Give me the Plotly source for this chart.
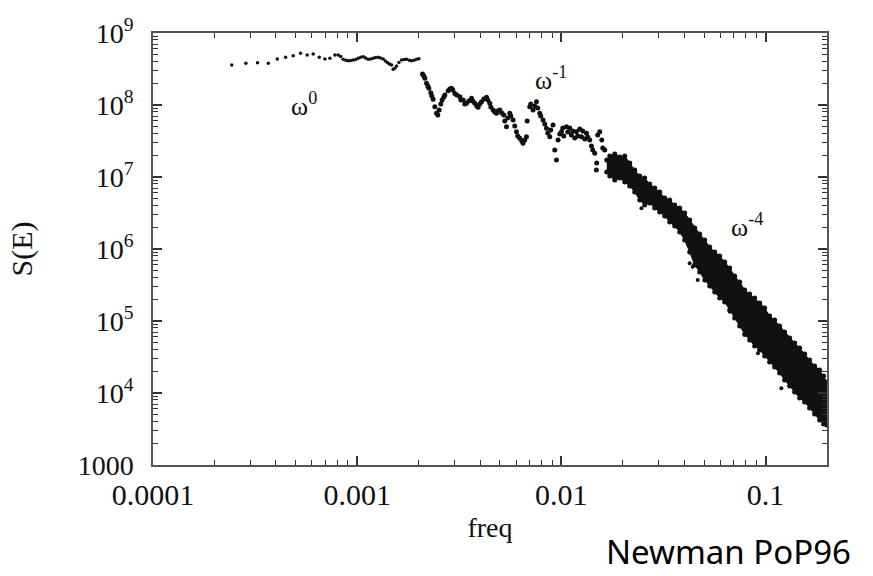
import math
import plotly.graph_objects as go

# ---- data ----
# sparse low-frequency part (flat, omega^0)
freq_lo = [2.43e-4, 2.85e-4, 3.25e-4, 3.67e-4, 4.06e-4, 4.46e-4, 4.86e-4, 5.28e-4, 5.69e-4, 6.09e-4,
           6.52e-4, 6.95e-4, 7.35e-4, 7.78e-4, 8.07e-4, 8.30e-4, 8.54e-4, 8.80e-4, 9.04e-4, 9.30e-4,
           9.56e-4, 9.85e-4, 1.011e-3, 1.040e-3, 1.070e-3, 1.100e-3, 1.132e-3, 1.165e-3, 1.198e-3, 1.230e-3,
           1.267e-3, 1.300e-3, 1.341e-3, 1.375e-3, 1.409e-3, 1.440e-3, 1.474e-3, 1.501e-3, 1.530e-3, 1.559e-3,
           1.600e-3, 1.649e-3, 1.700e-3, 1.745e-3, 1.800e-3, 1.846e-3, 1.900e-3, 1.954e-3, 2.005e-3]
S_lo = [3.59e8, 3.80e8, 3.87e8, 3.80e8, 4.36e8, 4.60e8, 4.84e8, 5.23e8, 4.95e8, 5.11e8,
        4.60e8, 4.36e8, 4.45e8, 4.95e8, 4.95e8, 4.70e8, 4.31e8, 4.20e8, 4.12e8, 4.15e8,
        4.22e8, 4.30e8, 4.45e8, 4.60e8, 4.69e8, 4.50e8, 4.31e8, 4.35e8, 4.45e8, 4.55e8,
        4.60e8, 4.50e8, 4.36e8, 4.10e8, 3.87e8, 3.70e8, 3.59e8, 3.13e8, 3.25e8, 3.48e8,
        3.90e8, 4.22e8, 4.30e8, 4.31e8, 4.20e8, 4.12e8, 4.20e8, 4.31e8, 4.40e8]

# drop and intermediate (omega^-1) part
freq_mid = [2.09e-3, 2.12e-3, 2.145e-3, 2.186e-3, 2.218e-3, 2.244e-3, 2.295e-3, 2.320e-3, 2.355e-3, 2.401e-3,
            2.447e-3, 2.482e-3, 2.520e-3, 2.568e-3, 2.607e-3, 2.656e-3, 2.687e-3, 2.789e-3, 2.842e-3, 2.898e-3,
            2.940e-3, 3.008e-3, 3.076e-3, 3.182e-3, 3.218e-3, 3.303e-3, 3.366e-3, 3.431e-3, 3.521e-3, 3.631e-3,
            3.683e-3, 3.768e-3, 3.853e-3, 3.911e-3, 3.986e-3, 4.064e-3, 4.170e-3, 4.299e-3, 4.362e-3, 4.462e-3,
            4.512e-3, 4.631e-3, 4.720e-3, 4.812e-3, 4.882e-3, 4.994e-3, 5.107e-3, 5.224e-3, 5.283e-3, 5.386e-3,
            5.465e-3, 5.589e-3, 5.653e-3, 5.801e-3, 5.914e-3, 6.027e-3, 6.117e-3, 6.256e-3, 6.399e-3, 6.493e-3,
            6.619e-3, 6.746e-3, 6.800e-3, 7.001e-3, 7.083e-3, 7.267e-3, 7.409e-3, 7.551e-3, 7.664e-3, 7.838e-3,
            7.928e-3, 8.135e-3, 8.293e-3, 8.453e-3, 8.578e-3, 8.774e-3, 8.873e-3, 9.107e-3, 9.282e-3, 9.463e-3,
            9.636e-3, 9.820e-3, 1.001e-2, 1.016e-2, 1.027e-2, 1.059e-2, 1.075e-2, 1.099e-2, 1.120e-2, 1.137e-2,
            1.163e-2, 1.185e-2, 1.203e-2, 1.230e-2, 1.254e-2, 1.273e-2, 1.302e-2, 1.327e-2, 1.346e-2, 1.377e-2,
            1.404e-2, 1.425e-2, 1.457e-2, 1.485e-2, 1.490e-2, 1.507e-2, 1.542e-2, 1.577e-2, 1.595e-2, 1.631e-2]
S_mid = [2.70e8, 2.53e8, 2.35e8, 2.00e8, 1.84e8, 1.71e8, 1.48e8, 1.33e8, 1.20e8, 9.47e7,
         7.67e7, 7.26e7, 8.52e7, 1.03e8, 1.17e8, 1.29e8, 1.38e8, 1.58e8, 1.67e8, 1.71e8,
         1.62e8, 1.45e8, 1.38e8, 1.30e8, 1.17e8, 1.17e8, 1.03e8, 1.06e8, 1.14e8, 1.24e8,
         1.14e8, 1.06e8, 9.69e7, 9.29e7, 1.03e8, 1.11e8, 1.21e8, 1.28e8, 1.17e8, 1.06e8,
         9.38e7, 8.52e7, 7.99e7, 7.67e7, 8.25e7, 8.52e7, 7.74e7, 7.26e7, 5.99e7, 5.00e7,
         6.60e7, 7.67e7, 7.04e7, 6.19e7, 5.11e7, 4.26e7, 3.71e7, 3.45e7, 3.16e7, 2.94e7,
         3.27e7, 3.63e7, 5.99e7, 9.47e7, 1.03e8, 8.52e7, 9.69e7, 1.11e8, 9.08e7, 7.67e7,
         7.04e7, 6.19e7, 5.45e7, 4.75e7, 4.08e7, 3.63e7, 4.50e7, 5.28e7, 2.37e7, 1.72e7,
         3.27e7, 3.96e7, 4.26e7, 4.79e7, 3.71e7, 5.00e7, 4.22e7, 4.79e7, 3.83e7, 4.35e7,
         3.48e7, 4.26e7, 3.71e7, 4.64e7, 3.63e7, 4.35e7, 3.37e7, 4.05e7, 3.59e7, 3.27e7,
         2.70e7, 2.37e7, 2.13e7, 1.25e7, 1.56e7, 3.83e7, 4.26e7, 3.27e7, 2.53e7, 2.37e7]

# dense high-frequency band (omega^-4): upper and lower envelope of the black cloud
freq_band = [0.01668, 0.01726, 0.01826, 0.01931, 0.02044, 0.02162, 0.02287, 0.0242, 0.02559, 0.02708,
             0.02865, 0.03031, 0.03207, 0.03393, 0.0359, 0.03798, 0.04018, 0.04252, 0.04498, 0.04759,
             0.05035, 0.05327, 0.05636, 0.05963, 0.06309, 0.06674, 0.07061, 0.07471, 0.07904, 0.08362,
             0.08847, 0.09358, 0.099, 0.1047, 0.1108, 0.1172, 0.124, 0.1312, 0.1388, 0.1469,
             0.1554, 0.1644, 0.1739, 0.184, 0.1925, 0.1996]
S_band_hi = [1.72e7, 1.96e7, 2.09e7, 1.90e7, 1.96e7, 1.56e7, 1.25e7, 1.03e7, 9.69e6, 7.99e6,
             7.04e6, 6.19e6, 5.11e6, 4.79e6, 4.08e6, 3.71e6, 3.16e6, 2.53e6, 1.96e6, 1.62e6,
             1.33e6, 1.07e6, 9.08e5, 7.99e5, 6.60e5, 5.45e5, 4.22e5, 3.48e5, 2.70e5, 2.37e5,
             2.09e5, 1.78e5, 1.52e5, 1.17e5, 1.03e5, 8.52e4, 7.04e4, 5.81e4, 4.95e4, 4.22e4,
             3.48e4, 2.87e4, 2.37e4, 2.09e4, 1.72e4, 1.42e4]
S_band_lo = [1.17e7, 1.03e7, 9.08e6, 9.69e6, 8.52e6, 7.50e6, 6.19e6, 4.79e6, 4.08e6, 4.35e6,
             3.71e6, 3.27e6, 2.87e6, 2.37e6, 2.09e6, 1.72e6, 1.33e6, 9.08e5, 5.99e5, 4.79e5,
             3.71e5, 3.06e5, 2.53e5, 2.09e5, 1.84e5, 1.42e5, 1.10e5, 8.52e4, 6.60e4, 5.45e4,
             4.50e4, 3.96e4, 3.27e4, 2.70e4, 2.30e4, 1.90e4, 1.52e4, 1.25e4, 1.03e4, 8.52e3,
             7.50e3, 6.19e3, 5.11e3, 4.22e3, 3.71e3, 3.59e3]

# isolated points just outside the dense band
freq_out = [0.02467, 0.04252, 0.04398, 0.04653, 0.06674, 0.07904, 0.0918, 0.1195]
S_out = [3.68e6, 6.33e5, 5.68e5, 3.71e5, 1.346e5, 6.39e4, 3.56e4, 1.163e4]

x_ticks = [1e-4, 1e-3, 1e-2, 1e-1]
x_ticktext = ["0.0001", "0.001", "0.01", "0.1"]
y_ticks = [1e3, 1e4, 1e5, 1e6, 1e7, 1e8, 1e9]
y_ticktext = ["1000", "10<sup>4</sup>", "10<sup>5</sup>", "10<sup>6</sup>",
              "10<sup>7</sup>", "10<sup>8</sup>", "10<sup>9</sup>"]

labels = ["ω<sup>0</sup>", "ω<sup>-1</sup>", "ω<sup>-4</sup>"]
label_freq = [5.46e-4, 8.92e-3, 8.08e-2]
label_S = [1.03e8, 2.37e8, 2.15e6]

# ---- figure ----
INK = "#111111"
SERIF = "Liberation Serif, Times New Roman, serif"

fig = go.Figure()

# filled dense band
fig.add_trace(go.Scatter(
    x=freq_band + freq_band[::-1], y=S_band_hi + S_band_lo[::-1],
    mode="lines", fill="toself", fillcolor=INK, line=dict(color=INK, width=1),
    hoverinfo="skip"))
# roughened band edges
fig.add_trace(go.Scatter(x=freq_band + freq_band, y=S_band_hi + S_band_lo, mode="markers",
                         marker=dict(color=INK, size=5), hoverinfo="skip"))
fig.add_trace(go.Scatter(x=freq_lo, y=S_lo, mode="markers", marker=dict(color=INK, size=3.5)))
fig.add_trace(go.Scatter(x=freq_mid, y=S_mid, mode="markers", marker=dict(color=INK, size=5)))
fig.add_trace(go.Scatter(x=freq_out, y=S_out, mode="markers", marker=dict(color=INK, size=4)))

x_minor = [m * 10.0 ** e for e in range(-4, 0) for m in range(2, 10) if m * 10.0 ** e <= 0.2]
y_minor = [m * 10.0 ** e for e in range(3, 9) for m in range(2, 10)]

axis_common = dict(
    type="log", showgrid=False, zeroline=False, showline=True, linecolor="#555555", linewidth=1.5,
    mirror="allticks", ticks="inside", ticklen=9, tickwidth=1.5, tickcolor="#333333",
    tickmode="array",
)

fig.update_xaxes(
    **axis_common,
    range=[math.log10(1e-4), math.log10(0.2)],
    tickvals=x_ticks, ticktext=x_ticktext,
    tickfont=dict(family=SERIF, size=30, color=INK),
    ticklabelstandoff=2,
    minor=dict(tickmode="array", tickvals=x_minor, ticks="inside", ticklen=5,
               tickwidth=1, tickcolor="#333333", showgrid=False),
    title=dict(text="freq", font=dict(family=SERIF, size=28, color=INK), standoff=8),
)
fig.update_yaxes(
    **axis_common,
    range=[3, 9],
    tickvals=y_ticks, ticktext=y_ticktext,
    tickfont=dict(family=SERIF, size=28, color=INK),
    ticklabelstandoff=12,
    minor=dict(tickmode="array", tickvals=y_minor, ticks="inside", ticklen=5,
               tickwidth=1, tickcolor="#333333", showgrid=False),
    title=dict(text="S(E)", font=dict(family=SERIF, size=30, color=INK), standoff=36),
)

for t, fx, sy in zip(labels, label_freq, label_S):
    fig.add_annotation(x=math.log10(fx), y=math.log10(sy), xref="x", yref="y", text=t,
                       showarrow=False, xanchor="center", yanchor="middle",
                       font=dict(family=SERIF, size=26, color=INK))

fig.add_annotation(x=(728 - 153) / 674, y=-0.2535, xref="paper", yref="paper", text="Newman PoP96",
                   showarrow=False, xanchor="center", yanchor="bottom", borderpad=0,
                   font=dict(family="Noto Sans", size=33, color="#000000"))

fig.update_layout(
    width=873, height=576, margin=dict(l=153, r=46, t=33, b=111),
    plot_bgcolor="white", paper_bgcolor="white", showlegend=False,
)

fig.write_html("out.html")
